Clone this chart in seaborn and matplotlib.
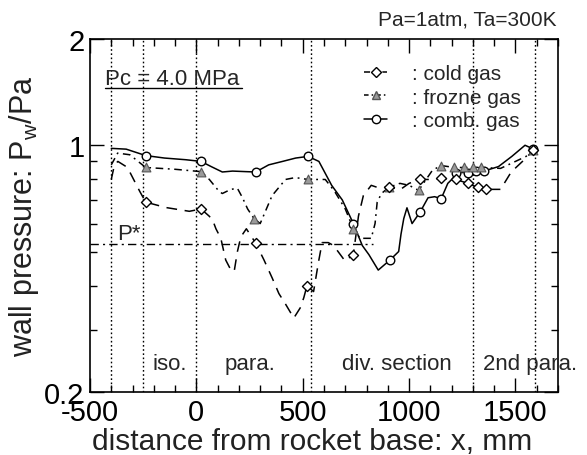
import numpy as np
import pandas as pd
import matplotlib
matplotlib.use("Agg")
import matplotlib.pyplot as plt
from matplotlib.lines import Line2D
from matplotlib.ticker import FixedLocator, NullFormatter, FixedFormatter
import seaborn as sns

# ---------------- data ----------------
comb_x = [-400, -330, -238, -150, -50, 22, 70, 122, 170, 232, 279, 340, 405, 467, 525,
          576, 636, 686, 738, 780, 811, 855, 910, 951, 962, 975, 990, 1014, 1052, 1089,
          1120, 1151, 1182, 1206, 1221, 1276, 1315, 1354, 1420, 1483, 1545, 1584]
comb_y = [0.98, 0.975, 0.935, 0.92, 0.91, 0.90, 0.87, 0.84, 0.845, 0.842, 0.84, 0.88, 0.90, 0.92, 0.93,
          0.90, 0.77, 0.70, 0.60, 0.52, 0.49, 0.443, 0.473, 0.50, 0.56, 0.62, 0.665, 0.60, 0.647, 0.71,
          0.715, 0.706, 0.78, 0.806, 0.837, 0.837, 0.846, 0.846, 0.87, 0.93, 1.0, 0.976]
comb_mx = [-238, 22, 279, 525, 738, 910, 1052, 1151, 1221, 1276, 1315, 1354, 1584]
comb_my = [0.935, 0.90, 0.84, 0.93, 0.60, 0.473, 0.647, 0.706, 0.837, 0.837, 0.846, 0.846, 0.976]

froz_x = [-400, -370, -313, -238, -100, 22, 61, 107, 122, 162, 193, 217, 241, 271, 300,
          356, 419, 465, 525, 606, 650, 700, 738, 770, 822, 840, 850, 870, 905, 957,
          1000, 1045, 1080, 1110, 1151, 1213, 1260, 1300, 1340, 1430, 1500, 1550, 1584]
froz_y = [0.88, 0.95, 0.94, 0.865, 0.855, 0.842, 0.80, 0.74, 0.73, 0.75, 0.755, 0.71, 0.66, 0.62, 0.60,
          0.72, 0.80, 0.81, 0.80, 0.80, 0.74, 0.66, 0.58, 0.545, 0.545, 0.60, 0.69, 0.73, 0.76, 0.78,
          0.77, 0.745, 0.80, 0.85, 0.876, 0.865, 0.865, 0.865, 0.865, 0.86, 0.90, 0.93, 0.97]
froz_mx = [-238, 22, 271, 525, 738, 905, 1045, 1151, 1213, 1260, 1300, 1340, 1584]
froz_my = [0.865, 0.842, 0.62, 0.80, 0.58, 0.76, 0.745, 0.876, 0.865, 0.865, 0.865, 0.865, 0.97]

cold_x = [-400, -385, -369, -330, -313, -266, -238, -142, -33, 22, 60, 76, 92, 115, 138,
          165, 178, 193, 209, 235, 279, 318, 357, 388, 419, 458, 488, 505, 520, 551,
          567, 575, 591, 620, 645, 699, 738, 762, 785, 822, 850, 905, 960, 1000, 1050,
          1100, 1151, 1221, 1276, 1322, 1361, 1430, 1480, 1550, 1584]
cold_y = [0.80, 0.88, 0.90, 0.87, 0.84, 0.74, 0.69, 0.666, 0.65, 0.66, 0.63, 0.615, 0.58, 0.545, 0.473,
          0.44, 0.44, 0.50, 0.55, 0.58, 0.528, 0.473, 0.42, 0.38, 0.355, 0.324, 0.346, 0.37, 0.40, 0.385,
          0.44, 0.47, 0.53, 0.53, 0.52, 0.47, 0.49, 0.63, 0.72, 0.77, 0.76, 0.76, 0.75, 0.78, 0.80,
          0.80, 0.806, 0.80, 0.78, 0.76, 0.75, 0.75, 0.84, 0.92, 0.97]
cold_mx = [-238, 22, 279, 520, 738, 905, 1050, 1151, 1221, 1276, 1322, 1361, 1584]
cold_my = [0.69, 0.66, 0.528, 0.40, 0.49, 0.76, 0.80, 0.806, 0.80, 0.78, 0.76, 0.75, 0.97]

section_x = [-400, -250, 0, 540, 1300, 1590]
p_star = 0.525
p_star_end = 830

x_ticks = [-500, 0, 500, 1000, 1500]
y_ticks = [0.2, 1, 2]
y_ticklabels = ["0.2", "1", "2"]
y_minor = [0.3, 0.4, 0.5, 0.6, 0.7, 0.8, 0.9]

legend_labels = [": cold gas", ": frozne gas", ": comb. gas"]
section_labels = ["iso.", "para.", "div. section", "2nd para."]

# ---------------- styling ----------------
sns.set_style("ticks")
plt.rcParams["font.family"] = ["Liberation Sans", "DejaVu Sans"]
plt.rcParams["mathtext.fontset"] = "custom"
plt.rcParams["mathtext.rm"] = "Liberation Sans"
plt.rcParams["mathtext.it"] = "Liberation Sans"

fig = plt.figure(figsize=(5.87, 4.56), dpi=100)
ax = fig.add_axes([90/587, 1 - 393/456, 468/587, 353/456])

lw = 1.1
comb_df = pd.DataFrame({"x": comb_x, "y": comb_y})
froz_df = pd.DataFrame({"x": froz_x, "y": froz_y})
cold_df = pd.DataFrame({"x": cold_x, "y": cold_y})

sns.lineplot(data=comb_df, x="x", y="y", ax=ax, sort=False, color="black", lw=lw,
             linestyle="-", estimator=None)
sns.lineplot(data=froz_df, x="x", y="y", ax=ax, sort=False, color="black", lw=lw,
             estimator=None)
ax.lines[-1].set_linestyle((0, (5, 3, 1.2, 3)))
sns.lineplot(data=cold_df, x="x", y="y", ax=ax, sort=False, color="black", lw=lw,
             estimator=None)
ax.lines[-1].set_linestyle((0, (7, 5)))

sns.scatterplot(x=comb_mx, y=comb_my, ax=ax, marker="o", s=38, facecolor="white",
                edgecolor="black", linewidth=1.0, zorder=5)
sns.scatterplot(x=froz_mx, y=froz_my, ax=ax, marker="^", s=40, facecolor="#9a9a9a",
                edgecolor="#555555", linewidth=0.8, zorder=5)
sns.scatterplot(x=cold_mx, y=cold_my, ax=ax, marker="D", s=26, facecolor="white",
                edgecolor="black", linewidth=1.0, zorder=5)

for sx in section_x:
    ax.axvline(sx, color="black", lw=1.0, linestyle=(0, (1.2, 1.8)), zorder=1)
ax.plot([-500, p_star_end], [p_star, p_star], color="black", lw=1.0,
        linestyle=(0, (6, 3, 1.5, 3)), zorder=1)

ax.set_yscale("log")
ax.set_xlim(-500, 1700)
ax.set_ylim(0.2, 2)
ax.xaxis.set_major_locator(FixedLocator(x_ticks))
ax.set_xticklabels([str(t) for t in x_ticks])
ax.xaxis.set_minor_locator(FixedLocator(list(range(-500, 1701, 100))))
ax.yaxis.set_major_locator(FixedLocator(y_ticks))
ax.yaxis.set_major_formatter(FixedFormatter(y_ticklabels))
ax.yaxis.set_minor_locator(FixedLocator(y_minor))
ax.yaxis.set_minor_formatter(NullFormatter())
ax.tick_params(which="both", direction="in", top=True, right=True, width=1.0,
               labelsize=21, colors="black")
ax.tick_params(which="major", length=10, pad=4)
ax.tick_params(which="minor", length=5)
for sp in ax.spines.values():
    sp.set_linewidth(1.2)
    sp.set_color("black")

ax.set_xlabel("distance from rocket base: x, mm", fontsize=21.5, color="#222222")
ax.xaxis.set_label_coords(0.474, -0.10)
ax.set_ylabel("wall pressure: P$_\\mathregular{w}$/Pa", fontsize=22, labelpad=2, color="#222222")

ax.text(0.998, 1.058, "Pa=1atm, Ta=300K", transform=ax.transAxes, ha="right", va="center",
        fontsize=15)
ax.text(0.032, 0.887, "Pc = 4.0 MPa", transform=ax.transAxes, ha="left", va="center",
        fontsize=16)
ax.plot([0.032, 0.325], [0.862, 0.862], transform=ax.transAxes, color="black", lw=1.0)
ax.text(0.058, 0.450, "P*", transform=ax.transAxes, ha="left", va="center", fontsize=16)

sec_pos = [(0.171, "center"), (0.342, "center"), (0.656, "center"), (0.840, "left")]
for (px, ha), lab in zip(sec_pos, section_labels):
    ax.text(px, 0.082, lab, transform=ax.transAxes, ha=ha, va="center", fontsize=16,
            clip_on=False)

handles = [
    Line2D([], [], color="black", lw=lw, linestyle=(0, (4, 2)), marker="D", markersize=5,
           markerfacecolor="white", markeredgecolor="black"),
    Line2D([], [], color="black", lw=lw, linestyle=(0, (3, 2, 1, 2)), marker="^", markersize=6,
           markerfacecolor="#9a9a9a", markeredgecolor="#555555"),
    Line2D([], [], color="black", lw=lw, linestyle="-", marker="o", markersize=6,
           markerfacecolor="white", markeredgecolor="black"),
]
ax.legend(handles, legend_labels, loc="upper left", bbox_to_anchor=(0.555, 0.97),
          frameon=False, fontsize=15, handlelength=1.1, handletextpad=1.2,
          labelspacing=0.22, borderpad=0.2)

fig.savefig("out.png", dpi=100)
